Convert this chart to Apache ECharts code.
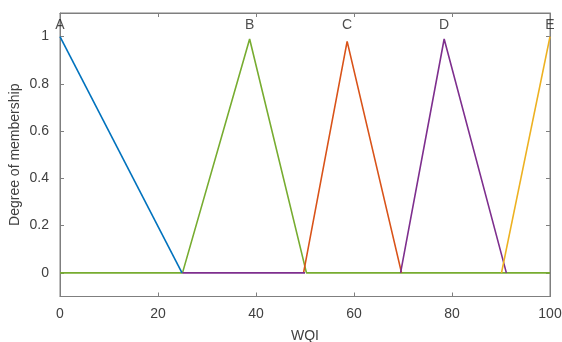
<!DOCTYPE html>
<html>
<head>
<meta charset="utf-8">
<script src="https://cdn.jsdelivr.net/npm/echarts@6/dist/echarts.min.js"></script>
<style>html,body{margin:0;padding:0;background:#fff;}#c{width:562px;height:342px;}</style>
</head>
<body>
<div id="c"></div>
<script>
// Membership functions (WQI, degree)
var mfA = [[0, 1], [24.9, 0]];
var mfB = [[0, 0], [25, 0], [38.7, 0.99], [50.3, 0], [100, 0]];
var mfC = [[49.7, 0], [58.6, 0.98], [69.7, 0]];
var mfD = [[25, 0], [50, 0], ['-', '-'], [69.5, 0], [78.4, 0.99], [91.1, 0]];
var mfE = [[90.1, 0], [100, 1]];
var labelNames = ['A', 'B', 'C', 'D', 'E'];
var labelX = [0, 38.7, 58.6, 78.4, 100];
var labelY = [1.05, 1.05, 1.05, 1.05, 1.05];
var yTicks = [0, 0.2, 0.4, 0.6, 0.8, 1];

var axisColor = '#7f7f7f';
var textColor = '#404040';
var font = 'Liberation Sans, Arial, sans-serif';

var chart = echarts.init(document.getElementById('c'), null, {renderer: 'canvas'});
var lw = 1.6;
function line(data, color, z) {
  return {type: 'line', data: data, symbol: 'none', lineStyle: {color: color, width: lw}, itemStyle: {color: color}, z: z, animation: false, connectNulls: false};
}
chart.setOption({
  animation: false,
  grid: {left: 60, right: 12, top: 13, bottom: 45.5, outerBoundsMode: 'none', containLabel: false, show: true, borderColor: axisColor, borderWidth: 1, backgroundColor: '#fff'},
  xAxis: [{
    type: 'value', min: 0, max: 100, interval: 20,
    name: 'WQI', nameLocation: 'middle', nameGap: 33, nameMoveOverlap: false,
    nameTextStyle: {color: textColor, fontSize: 14, fontFamily: font},
    axisLine: {show: true, onZero: false, lineStyle: {color: axisColor}},
    axisTick: {show: true, inside: true, length: 4, lineStyle: {color: axisColor}},
    axisLabel: {color: textColor, fontSize: 14, fontFamily: font, margin: 11},
    splitLine: {show: false}
  }, {
    type: 'value', position: 'top', min: 0, max: 100, interval: 20,
    axisLine: {show: true, onZero: false, lineStyle: {color: axisColor}},
    axisTick: {show: true, inside: true, length: 4, lineStyle: {color: axisColor}},
    axisLabel: {show: false}, splitLine: {show: false}
  }],
  yAxis: [{
    type: 'value', min: -0.1, max: 1.1,
    name: 'Degree of membership', nameLocation: 'middle', nameGap: 38, nameMoveOverlap: false,
    nameTextStyle: {color: textColor, fontSize: 14, fontFamily: font},
    axisLine: {show: true, onZero: false, lineStyle: {color: axisColor}},
    axisTick: {show: true, inside: true, length: 4, customValues: yTicks, lineStyle: {color: axisColor}},
    axisLabel: {color: textColor, fontSize: 14, fontFamily: font, customValues: yTicks, margin: 11},
    splitLine: {show: false}
  }, {
    type: 'value', position: 'right', min: -0.1, max: 1.1,
    axisLine: {show: true, onZero: false, lineStyle: {color: axisColor}},
    axisTick: {show: true, inside: true, length: 4, customValues: yTicks, lineStyle: {color: axisColor}},
    axisLabel: {show: false}, splitLine: {show: false}
  }],
  series: [
    line(mfB, '#77AC30', 2),
    line(mfA, '#0072BD', 3),
    line(mfC, '#D95319', 3),
    line(mfD, '#7E2F8E', 3),
    line(mfE, '#EDB120', 3),
    {
      type: 'scatter', symbolSize: 0, z: 5,
      data: labelX.map(function (x, i) { return {value: [x, labelY[i]], name: labelNames[i]}; }),
      label: {show: true, position: 'inside', formatter: '{b}', color: '#222', fontSize: 14, fontFamily: font}
    }
  ]
});
</script>
</body>
</html>
